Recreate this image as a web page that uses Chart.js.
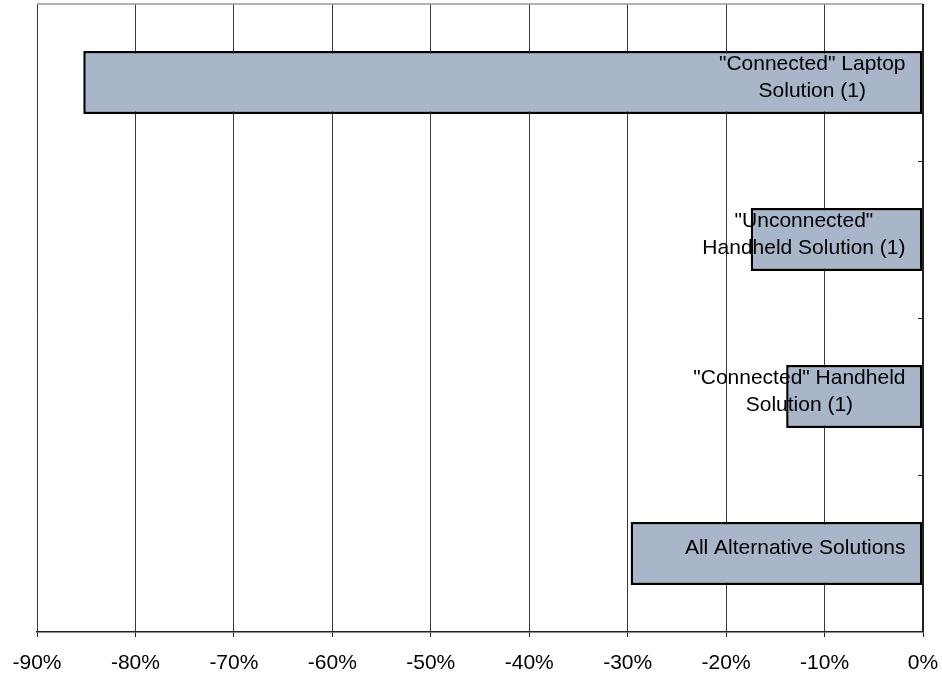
<!DOCTYPE html>
<html>
<head>
<meta charset="utf-8">
<script src="https://cdn.jsdelivr.net/npm/chart.js@4"></script>
<style>
  html, body { margin: 0; padding: 0; background: #fff; }
  #wrap { width: 942px; height: 675px; }
</style>
</head>
<body>
<div id="wrap"><canvas id="savings"></canvas></div>
<script>
const solutions = [
  ['"Connected" Laptop', 'Solution (1)'],
  ['"Unconnected"', 'Handheld Solution (1)'],
  ['"Connected" Handheld', 'Solution (1)'],
  ['All Alternative Solutions']
];
const change = [-85.3, -17.5, -13.9, -29.7];
const xTicks = [-90, -80, -70, -60, -50, -40, -30, -20, -10, 0];

const FONT = '"Liberation Sans", Arial, sans-serif';

// labels sit inside each bar, right-aligned near the zero base
const barLabels = {
  id: 'barLabels',
  afterDatasetsDraw(chart) {
    const ctx = chart.ctx;
    const meta = chart.getDatasetMeta(0);
    ctx.save();
    ctx.font = '21px ' + FONT;
    ctx.fillStyle = '#000';
    ctx.textAlign = 'center';
    ctx.textBaseline = 'middle';
    meta.data.forEach((bar, i) => {
      const lines = solutions[i];
      const w = Math.max(...lines.map(l => ctx.measureText(l).width));
      const cx = bar.base - 17 - w / 2;
      const lh = 27;
      const top = bar.y - 5 - (lines.length - 1) * lh / 2;
      lines.forEach((l, j) => ctx.fillText(l, cx, top + j * lh));
    });
    ctx.restore();
  }
};

// plot border and inward tick marks on the value-zero axis
const frame = {
  id: 'frame',
  afterDraw(chart) {
    const { ctx, chartArea: a } = chart;
    const y = chart.scales.y;
    ctx.save();
    ctx.strokeStyle = '#9a9a9a';
    ctx.lineWidth = 1.5;
    ctx.beginPath();
    ctx.moveTo(a.left, a.top);
    ctx.lineTo(a.right, a.top);
    ctx.stroke();
    ctx.strokeStyle = '#222';
    ctx.lineWidth = 2;
    ctx.beginPath();
    ctx.moveTo(a.right, a.top);
    ctx.lineTo(a.right, a.bottom);
    ctx.stroke();
    ctx.lineWidth = 1;
    for (let i = 0; i < solutions.length - 1; i++) {
      const py = Math.round(y.getPixelForValue(i + 0.5)) + 0.5;
      ctx.beginPath();
      ctx.moveTo(a.right - 5, py);
      ctx.lineTo(a.right, py);
      ctx.stroke();
    }
    ctx.restore();
  }
};

new Chart(document.getElementById('savings'), {
  type: 'bar',
  data: {
    labels: solutions.map(s => s.join(' ')),
    datasets: [{
      data: change,
      backgroundColor: '#a9b5c9',
      borderColor: '#000',
      borderWidth: 2.5,
      borderSkipped: false,
      categoryPercentage: 1,
      barPercentage: 0.4
    }]
  },
  options: {
    indexAxis: 'y',
    responsive: true,
    maintainAspectRatio: false,
    animation: false,
    layout: { padding: { left: 37, right: 19, top: 4, bottom: 0 } },
    plugins: {
      legend: { display: false },
      tooltip: { enabled: false }
    },
    scales: {
      x: {
        min: -90,
        max: 0,
        afterBuildTicks: axis => { axis.ticks = xTicks.map(v => ({ value: v })); },
        afterFit: axis => {
          axis.height = 43;
          axis.paddingLeft = 0;
          axis.paddingRight = 0;
        },
        ticks: {
          callback: v => v + '%',
          font: { family: FONT, size: 21 },
          color: '#000',
          padding: 14,
          maxRotation: 0
        },
        grid: {
          color: '#3a3a3a',
          lineWidth: 1,
          tickLength: 5,
          tickColor: '#222'
        },
        border: { color: '#222', width: 1.5 }
      },
      y: {
        display: false
      }
    }
  },
  plugins: [barLabels, frame]
});
</script>
</body>
</html>
